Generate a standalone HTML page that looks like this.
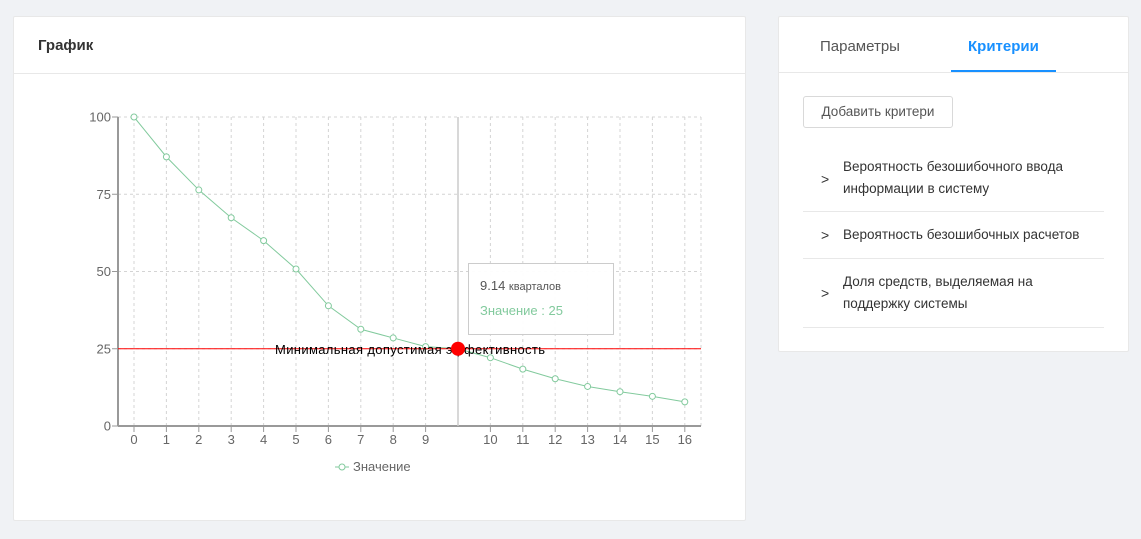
<!DOCTYPE html>
<html><head><meta charset="utf-8"><style>
body{margin:0;width:1141px;height:539px;background:#f0f2f5;font-family:"Liberation Sans","DejaVu Sans",sans-serif;position:relative;overflow:hidden}
.card{position:absolute;background:#fff;border:1px solid #e8e8e8;border-radius:2px}
.crit{position:absolute;left:24px;width:301px;border-bottom:1px solid #e8e8e8;font-size:13.5px;color:#333;line-height:22px}
.crit span.a{position:absolute;left:18px;top:50%;transform:translateY(-50%);font-size:14px}
.crit div{padding-left:40px;padding-right:40px}
</style></head><body>
<div class="card" style="left:13px;top:16px;width:731px;height:503px">
 <div style="position:absolute;left:24px;top:20px;font-size:15px;font-weight:bold;color:#333">График</div>
 <div style="position:absolute;left:0;top:56px;width:731px;border-top:1px solid #e8e8e8"></div>
</div>
<div class="card" style="left:778px;top:16px;width:349px;height:334px">
 <div style="position:absolute;left:41px;top:21px;font-size:15px;color:#555">Параметры</div>
 <div style="position:absolute;left:189px;top:21px;font-size:15px;color:#1890ff;font-weight:bold">Критерии</div>
 <div style="position:absolute;left:172px;top:53px;width:105px;height:2px;background:#1890ff"></div>
 <div style="position:absolute;left:0;top:55px;width:349px;border-top:1px solid #e8e8e8"></div>
 <div style="position:absolute;left:24px;top:79px;width:148px;height:30px;border:1px solid #d9d9d9;border-radius:3px;font-size:13.5px;color:#555;line-height:30px;text-align:center">Добавить критери</div>
 <div class="crit" style="top:130px;height:64px"><span class="a">&gt;</span><div style="padding-top:9px">Вероятность безошибочного ввода информации в систему</div></div>
 <div class="crit" style="top:195px;height:46px"><span class="a">&gt;</span><div style="padding-top:12px;padding-right:0">Вероятность безошибочных расчетов</div></div>
 <div class="crit" style="top:242px;height:68px"><span class="a">&gt;</span><div style="padding-top:12px">Доля средств, выделяемая на поддержку системы</div></div>
</div>
<svg id="chart" width="1141" height="539" style="position:absolute;left:0;top:0" font-family="Liberation Sans, DejaVu Sans, sans-serif"></svg>
<div style="position:absolute;left:468px;top:263px;width:146px;height:72px;background:rgba(255,255,255,0.95);border:1px solid #ccc;box-sizing:border-box">
 <div style="position:absolute;left:11px;top:14px;font-size:13px;color:#555">9.14 <span style="font-size:11px">кварталов</span></div>
 <div style="position:absolute;left:11px;top:39px;font-size:13px;color:#82ca9d">Значение : 25</div>
</div>
<script>
const categories=["0","1","2","3","4","5","6","7","8","9","9.14","10","11","12","13","14","15","16"];
const values=[100,87.1,76.4,67.4,60,50.8,38.9,31.3,28.5,25.7,25,22.1,18.4,15.3,12.8,11.1,9.6,7.8];
const yTicks=[0,25,50,75,100];
const threshold=25;
const activeIndex=10;
const svg=document.getElementById('chart');const NS='http://www.w3.org/2000/svg';
const X0=134,DX=32.4,L=118,R=701;
const x=i=>X0+i*DX, y=v=>426-v*3.09;
function mk(t,a,p){const e=document.createElementNS(NS,t);for(const k in a)e.setAttribute(k,a[k]);(p||svg).appendChild(e);return e;}
yTicks.forEach(t=>{if(t>0){const g=mk('line',{x1:L,x2:R,y1:y(t),y2:y(t),stroke:'#d4d4d4','stroke-dasharray':'3 3'});}
 const tx=mk('text',{x:L-7,y:y(t)+4.5,'text-anchor':'end','font-size':13,fill:'#666'});tx.textContent=t;
 mk('line',{x1:L-6,x2:L,y1:y(t),y2:y(t),stroke:'#999'});});
categories.forEach((c,i)=>{if(i===activeIndex)return;const g=mk('line',{x1:x(i),x2:x(i),y1:y(100),y2:426,stroke:'#d4d4d4','stroke-dasharray':'3 3'});
 mk('line',{x1:x(i),x2:x(i),y1:426,y2:432,stroke:'#999'});
 const tx=mk('text',{x:x(i),y:444,'text-anchor':'middle','font-size':13,fill:'#666'});tx.textContent=c;});
mk('line',{x1:R,x2:R,y1:y(100),y2:426,stroke:'#d4d4d4','stroke-dasharray':'3 3'});
const ax=mk('line',{x1:L,x2:L,y1:y(100),y2:426,stroke:'#999','stroke-width':2});
const bx=mk('line',{x1:L,x2:R,y1:426,y2:426,stroke:'#999','stroke-width':2});
const cur=mk('line',{x1:x(activeIndex),x2:x(activeIndex),y1:y(100),y2:426,stroke:'#ccc','stroke-width':1.5});
const ln=mk('polyline',{points:values.map((v,i)=>x(i)+','+y(v)).join(' '),fill:'none',stroke:'#82ca9d','stroke-width':1});
values.forEach((v,i)=>{if(i===activeIndex)return;const c=mk('circle',{cx:x(i),cy:y(v),r:3,fill:'#fff',stroke:'#82ca9d'});});
const rl=mk('line',{x1:L,x2:R,y1:y(threshold),y2:y(threshold),stroke:'red','stroke-width':1});
const rt=mk('text',{x:(L+R)/2+0.5,y:y(threshold)+5,'text-anchor':'middle','font-size':13,fill:'#000',textLength:270});rt.textContent='Минимальная допустимая эффективность';
const ad=mk('circle',{cx:x(activeIndex),cy:y(values[activeIndex]),r:7,fill:'red'});
const lg=mk('g',{});
mk('line',{x1:335,x2:349,y1:467,y2:467,stroke:'#82ca9d'},lg);mk('circle',{cx:342,cy:467,r:3,fill:'#fff',stroke:'#82ca9d'},lg);
const lt=mk('text',{x:353,y:471,'font-size':13,fill:'#666'},lg);lt.textContent='Значение';
</script>
</body></html>
